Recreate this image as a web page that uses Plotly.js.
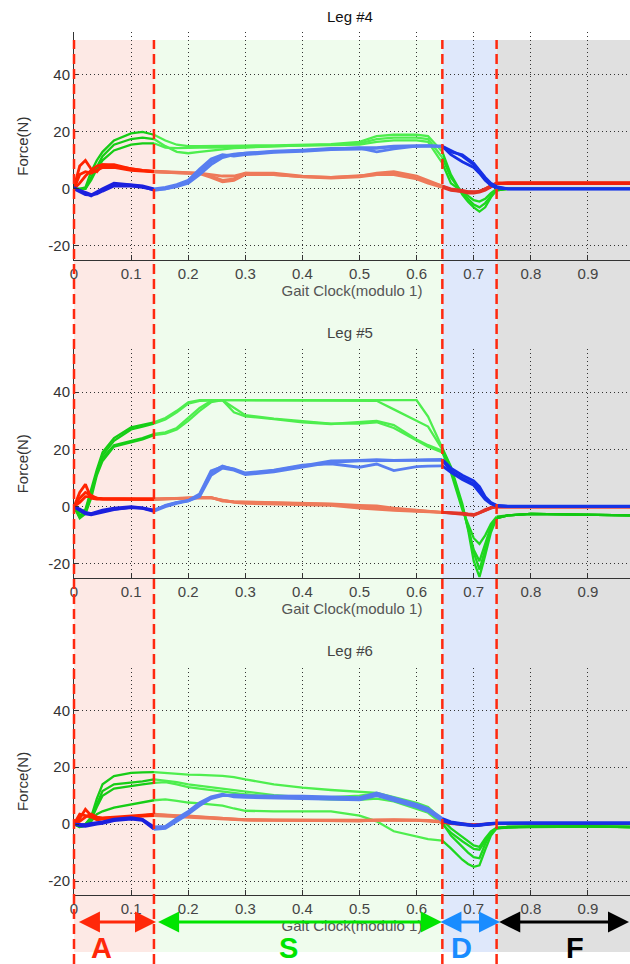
<!DOCTYPE html>
<html><head><meta charset="utf-8">
<script src="https://cdn.plot.ly/plotly-3.0.1.min.js"></script>
<style>html,body{margin:0;padding:0;background:#fff}#chart{width:630px;height:964px}</style>
</head><body><div id="chart"></div>
<script>
// ---------- data ----------
const GAIT_CLOCK = [0, 0.01, 0.02, 0.03, 0.04, 0.05, 0.07, 0.10, 0.12, 0.14,
  0.16, 0.18, 0.20, 0.22, 0.24, 0.26, 0.28, 0.30, 0.35, 0.40,
  0.45, 0.50, 0.53, 0.56, 0.60, 0.62, 0.645, 0.66, 0.68, 0.69,
  0.70, 0.71, 0.72, 0.73, 0.74, 0.76, 0.80, 0.85, 0.90, 0.975];

const LEG_TITLES = ['Leg #4', 'Leg #5', 'Leg #6'];
const PHASE_NAMES = ['A', 'S', 'D', 'F'];
const PHASE_BOUNDS = [0, 0.14, 0.645, 0.74];
const X_TICKS = [0, 0.1, 0.2, 0.3, 0.4, 0.5, 0.6, 0.7, 0.8, 0.9];
const Y_TICKS = [-20, 0, 20, 40];

const leg4Green = [
  [0, 0, 0.5, 6, 10, 13, 17, 19.5, 20, 19,
   17, 15.5, 15, 15, 15, 15, 15, 15.2, 15.3, 15.5,
   15.7, 16.5, 18.5, 19, 19, 18.5, 13, 5, -2, -4.5,
   -6.5, -8, -6.5, -3, -0.5, 0, 0, 0, 0, 0],
  [0, 0, 0, 4, 8, 11.5, 15.5, 17.5, 18, 17.5,
   15, 13, 12.5, 13, 13.5, 14, 14.3, 14.5, 15, 15.3,
   15.5, 16, 17.5, 18, 18, 17.5, 11, 4, -1.5, -3.5,
   -5.5, -6.5, -5, -2.5, -0.5, 0, 0, 0, 0, 0],
  [0, 0, 0, 3, 7, 10, 13.5, 15.5, 16, 16,
   14.5, 14.3, 14.5, 14.5, 14.5, 14.5, 14.6, 14.7, 15, 15.2,
   15.4, 15.5, 16.5, 17, 17, 16.5, 9, 2, -1, -2.5,
   -4, -4.5, -3.5, -1.5, 0, 0, 0, 0, 0, 0]
];
const leg4Red = [
  [0.5, 8, 10, 7, 6, 8.5, 8.5, 7, 6.5, 6.2,
   6, 6, 5.8, 5.5, 4.5, 3, 3.5, 5.5, 5.5, 4.5,
   4, 4.5, 5.5, 6, 4.5, 3, 1, 0, -0.5, -1,
   -1, -1, 0, 1, 2, 2.2, 2.2, 2.2, 2.2, 2.2],
  [0, 2, 4.5, 6.5, 8, 8.5, 8, 7, 6.5, 6,
   5.8, 5.8, 5.5, 5.5, 5, 4.5, 4.5, 5.5, 5, 4.3,
   4, 4.5, 5, 5.5, 4, 2.5, 1, -0.3, -1, -1.5,
   -1.5, -1.2, -0.5, 0.8, 1.8, 2, 2, 2, 2, 2],
  [0, 5, 6, 5.5, 6.5, 7.5, 7.5, 6.5, 6.2, 6,
   5.8, 5.8, 5.6, 5.3, 4, 2.5, 3, 5, 5, 4.2,
   3.8, 4.2, 5, 5, 3.5, 2, 0.5, -0.5, -1, -1.2,
   -1.2, -0.8, 0, 1.2, 2, 1.8, 1.8, 1.8, 1.8, 1.8]
];
const leg4Blue = [
  [0.5, -0.5, -1.5, -2.5, -1.5, -0.5, 1.5, 1.3, 0.8, -0.5,
   0, 1, 2.5, 6, 9.5, 11.5, 12.2, 12.5, 13, 13.5,
   14, 14.5, 14.5, 15, 15.2, 15, 15, 13.5, 11.5, 10,
   8.5, 6, 3.5, 1.5, 0.5, 0, 0, 0, 0, 0],
  [0, -1, -2, -2.2, -1, 0, 2, 1.5, 1, 0,
   0.5, 1.5, 3, 7, 10.5, 12, 11.5, 12, 12.8, 13.2,
   13.8, 14, 14.2, 14.8, 15, 15, 15, 12, 9.5, 8.5,
   7.5, 5.5, 3, 1.2, 0.3, 0, 0, 0, 0, 0],
  [0, -0.5, -1.2, -2, -1.8, -0.8, 1, 1, 0.5, -0.3,
   0, 0.8, 2, 5, 8.5, 11, 12, 12.5, 13.2, 13.6,
   14.2, 14.3, 13, 14, 15, 15.2, 14.8, 13, 12, 10.5,
   9, 6.5, 4, 2, 0.8, 0, 0, 0, 0, 0]
];

const leg5Green = [
  [0, -2, -1, 6, 13, 19, 24, 27.7, 28.5, 29.5,
   31, 33.5, 36.5, 37.2, 37.2, 37.2, 37.2, 37.2, 37.2, 37.2,
   37.2, 37.2, 37.2, 37.2, 37.2, 31.5, 20.5, 14, 1, -8,
   -19, -24.5, -17, -9, -4, -3, -2.5, -2.7, -2.8, -3],
  [0, -3, -1.5, 5, 12, 18, 23, 27, 28, 29,
   30.5, 33, 36, 37, 37.2, 37.2, 37.2, 37.2, 37.2, 37.2,
   37.2, 37.2, 37, 34, 30, 28, 20, 13.5, 0, -7,
   -16, -22, -15, -8, -4, -3, -2.5, -2.6, -2.8, -3],
  [0, -3.5, -2, 4, 12, 17, 21.5, 23, 24, 25.4,
   26, 27.5, 31, 34.5, 37, 37.2, 33, 31.6, 30.6, 29.5,
   28.9, 29.5, 30, 28.5, 23.5, 21.5, 19.5, 13, 0, -8,
   -15, -19, -13, -7, -4, -3, -2.5, -2.6, -2.8, -3],
  [0, -4, -2.5, 3, 11, 16, 21, 22.5, 23.5, 25,
   25.5, 27, 30, 33.5, 36.5, 37.2, 34.5, 32, 30.8, 29.8,
   29, 29, 29.5, 27.5, 23, 21, 19, 12, -1, -6,
   -11, -13, -10, -6, -3.5, -3, -2.5, -2.6, -2.8, -3]
];
const leg5Red = [
  [0, 5, 7.8, 3, 2.7, 2.7, 2.7, 2.6, 2.5, 2.6,
   2.8, 3, 3.2, 3.3, 3.3, 2, 1.8, 1.7, 1.5, 1.2,
   1, 0.5, 0.3, -0.5, -1.2, -1.6, -2, -2.2, -2.5, -2.8,
   -3, -2.2, -1.3, -0.5, 0, 0, 0, 0, 0, 0],
  [0, 1.5, 3.5, 3.5, 3, 2.8, 2.8, 2.8, 2.8, 2.8,
   2.9, 3, 3, 3.1, 3.1, 2.3, 1.5, 1.2, 1, 0.8,
   0.5, -0.5, -1, -1.3, -1.6, -1.8, -2, -2, -2.2, -2.5,
   -2.7, -2, -1, -0.3, 0, 0, 0, 0, 0, 0],
  [0, 3, 5, 4, 3, 2.7, 2.6, 2.5, 2.5, 2.5,
   2.7, 2.9, 3.1, 3.2, 3.2, 2.2, 1.7, 1.5, 1.3, 1,
   0.8, 0, -0.5, -1, -1.4, -1.7, -2, -2.1, -2.4, -2.7,
   -2.9, -2.1, -1.2, -0.4, 0, 0, 0, 0, 0, 0]
];
const leg5Blue = [
  [0, -1, -2.2, -2.6, -2, -1.5, -0.8, -0.3, -0.5, -1.4,
   0.5, 1.5, 2, 4, 12, 14.2, 13, 11.5, 12.6, 14.3,
   16, 16.2, 16.4, 16.2, 16.3, 16.5, 16.5, 13.5, 11, 10,
   9, 7, 3.5, 1.5, 0.5, 0.2, 0.2, 0.2, 0.2, 0.2],
  [0, -1.2, -2.5, -2.8, -2.4, -1.8, -1, -0.2, -0.6, -1.6,
   0, 1.2, 2, 3.5, 11, 13.5, 12.8, 11.2, 12.2, 13.8,
   15.5, 16, 16, 16, 16.2, 16.3, 16.2, 12.5, 10, 9,
   8, 6, 3, 1.2, 0.3, 0.1, 0.1, 0.1, 0.1, 0.1],
  [0, -0.8, -2, -2.4, -1.8, -1.2, -0.5, 0, -0.4, -1.2,
   0.3, 1.4, 2.2, 4.5, 12.5, 14, 13.2, 11.8, 12.8, 14.5,
   15, 13.8, 14.9, 12.6, 14, 14.2, 14.3, 12, 9.5, 8.5,
   7.5, 5, 2.5, 1, 0.3, 0.1, 0.1, 0.1, 0.1, 0.1]
];

const leg6Green = [
  [0, -0.5, 0, 2.5, 9, 14, 16.9, 18, 18.2, 18.3,
   18, 17.6, 17.4, 17.3, 17.2, 17, 16.5, 15.7, 14, 12.8,
   12, 11.5, 11, 9.5, 7.5, 6, 1.5, -1.5, -4.5, -6,
   -7.5, -8, -5, -2.5, -1.3, -1, -0.9, -0.8, -0.8, -1],
  [0, -0.5, 0, 2, 7, 11.6, 14, 14.5, 15, 15.7,
   15.3, 14.8, 14, 13.5, 13, 12.5, 12, 11.6, 10.2, 9.5,
   9.5, 10, 10.8, 9, 6.5, 5, 0.5, -4, -8, -10,
   -11.6, -12, -7, -3, -1.5, -1, -0.9, -0.8, -0.8, -1],
  [0, -1, -0.5, 1.5, 6, 10, 12.5, 13.5, 14, 14.5,
   14.8, 14, 13, 12.5, 12, 11.5, 11, 10.5, 9.5, 9,
   8.7, 8.5, 9, 8, 5.5, 4, 0, -3, -6, -7.5,
   -8.7, -9, -6, -3, -1.3, -1, -0.9, -0.8, -0.8, -1],
  [0, -1, -0.5, 1, 3.5, 4.5, 5.8, 7, 7.8, 8.4,
   8.7, 8.2, 7.6, 7.3, 7, 6.5, 5.5, 4.7, 4.5, 4.5,
   4.5, 3, 1, -2.5, -4.5, -5.3, -5.8, -8.5, -12.5, -14,
   -15, -14.5, -9, -4, -1.5, -1.2, -1, -0.9, -0.9, -1]
];
const leg6Red = [
  [0, 2, 5.2, 3, 2, 2, 2.3, 2.5, 3, 3.3,
   3, 2.9, 2.9, 2.6, 2.4, 2.2, 1.8, 1.5, 1.4, 1.3,
   1.3, 1.2, 1.5, 1.5, 1.4, 1.2, 0.8, 0.3, 0, -0.2,
   -0.3, -0.2, 0, 0.1, 0.2, 0.3, 0.3, 0.3, 0.3, 0.3],
  [0, 3.5, 3, 2.5, 1.5, 1.8, 2, 2.3, 2.8, 3,
   2.8, 2.7, 2.6, 2.4, 2.2, 2, 1.6, 1.4, 1.3, 1.2,
   1.2, 1.2, 1.3, 1.4, 1.3, 1.1, 0.7, 0.2, -0.1, -0.3,
   -0.4, -0.3, 0, 0.1, 0.2, 0.2, 0.2, 0.2, 0.2, 0.2],
  [0, 1, 2.5, 3.5, 2.5, 2.2, 2.5, 2.8, 3.2, 3.5,
   3.2, 3, 2.8, 2.5, 2.3, 2, 1.7, 1.6, 1.5, 1.4,
   1.4, 1.3, 1.4, 1.6, 1.5, 1.3, 0.9, 0.4, 0.1, -0.1,
   -0.2, -0.1, 0.1, 0.2, 0.3, 0.3, 0.3, 0.3, 0.3, 0.3]
];
const leg6Blue = [
  [0, -0.3, -0.5, 0, 0.3, 0.5, 1.5, 2, 1.5, -1.4,
   -1, 1.5, 4.1, 7, 9.3, 10.2, 10, 9.9, 9.6, 9.3,
   9.3, 8.8, 10.5, 8.7, 6.5, 5, 1.5, 0.5, 0, -0.3,
   -0.5, -0.3, 0, 0.2, 0.3, 0.4, 0.4, 0.4, 0.4, 0.4],
  [0, -0.6, -0.8, -0.3, 0, 0.3, 1.2, 1.8, 1.3, -1.8,
   -1.5, 1, 3.5, 6.5, 9, 10, 10.3, 10, 10, 9.8,
   9.6, 9.3, 11, 9.2, 7, 5.5, 2, 0.8, 0.2, -0.2,
   -0.4, -0.2, 0.1, 0.3, 0.4, 0.4, 0.4, 0.4, 0.4, 0.4],
  [0, 0, -0.2, 0.3, 0.6, 0.8, 1.8, 2.3, 1.7, -1,
   -0.8, 2, 4.5, 7.5, 9.6, 10.5, 9.6, 9.4, 9.2, 8.8,
   8.8, 8.5, 10, 8.2, 6, 4.5, 1.2, 0.4, -0.2, -0.5,
   -0.6, -0.4, -0.1, 0.1, 0.3, 0.3, 0.3, 0.3, 0.3, 0.3]
];

// ---------- styling ----------
const XMAX = 0.9736;
const Y_RANGE = [-25, 55];
const FONT = 'Liberation Sans, Arial, Helvetica, sans-serif';
const PHASE_FILL = ['rgb(253,233,229)', 'rgb(239,252,237)', 'rgb(223,232,251)', 'rgb(224,224,224)'];
const PAL_GREEN = ['rgb(22,205,22)', 'rgb(78,238,78)', 'rgb(30,215,30)', 'rgb(18,200,18)'];
const PAL_RED = ['rgb(255,35,0)', 'rgb(238,122,90)', 'rgb(226,52,40)', 'rgb(242,32,10)'];
const PAL_BLUE = ['rgb(28,32,222)', 'rgb(88,126,240)', 'rgb(22,48,230)', 'rgb(22,52,230)'];
const LABEL_COLORS = ['rgb(255,40,10)', 'rgb(0,228,0)', 'rgb(25,140,255)', 'rgb(0,0,0)'];
const LABEL_X = [0.049, 0.375, 0.678, 0.877];
const ARROW_SPANS = [[0.006, 0.1436], [0.1447, 0.644], [0.639, 0.746], [0.742, 0.99]];
const Y_DOMAINS = [[0.7303, 0.9665], [0.4001, 0.6377], [0.0713, 0.3074]];
const TITLE_Y = [0.9834, 0.6556, 0.3247];
const PLOT_W = 556;

const traces = [];
function addSeries(panel, trials, palette, width) {
  const sfx = panel === 0 ? '' : String(panel + 1);
  trials.forEach(ys => {
    for (let p = 0; p < 4; p++) {
      const lo = PHASE_BOUNDS[p];
      const hi = p < 3 ? PHASE_BOUNDS[p + 1] : Infinity;
      const xs = [], yv = [];
      GAIT_CLOCK.forEach((x, i) => {
        if (x >= lo - 1e-9 && x <= hi + 1e-9) { xs.push(x); yv.push(ys[i]); }
      });
      traces.push({
        x: xs, y: yv, xaxis: 'x' + sfx, yaxis: 'y' + sfx,
        type: 'scatter', mode: 'lines',
        line: { color: palette[p], width: width },
        hoverinfo: 'skip', showlegend: false
      });
    }
  });
}
const legs = [
  [leg4Green, leg4Red, leg4Blue],
  [leg5Green, leg5Red, leg5Blue],
  [leg6Green, leg6Red, leg6Blue]
];
legs.forEach((leg, k) => {
  addSeries(k, leg[0], PAL_GREEN, 2.3);
  addSeries(k, leg[1], PAL_RED, 2.8);
  addSeries(k, leg[2], PAL_BLUE, 2.8);
});

const layout = {
  width: 630, height: 964,
  margin: { l: 74, r: 0, t: 0, b: 0 },
  paper_bgcolor: 'white', plot_bgcolor: 'rgba(0,0,0,0)',
  font: { family: FONT, size: 15, color: '#333' },
  showlegend: false,
  shapes: [], annotations: []
};

for (let k = 0; k < 3; k++) {
  const sfx = k === 0 ? '' : String(k + 1);
  layout['xaxis' + sfx] = {
    domain: [0, 1], range: [0, XMAX], anchor: 'y' + sfx,
    tickvals: X_TICKS, ticktext: X_TICKS.map(String),
    showgrid: true, gridcolor: '#333', griddash: '1px,3px', gridwidth: 1,
    zeroline: false, showline: true, linecolor: '#333', linewidth: 1,
    ticks: 'inside', ticklen: 5, tickcolor: '#333',
    tickfont: { family: FONT, size: 15, color: '#444' },
    title: { text: 'Gait Clock(modulo 1)', font: { family: FONT, size: 15, color: '#555' }, standoff: k === 2 ? 0 : 4 },
    fixedrange: true
  };
  layout['yaxis' + sfx] = {
    domain: Y_DOMAINS[k], range: Y_RANGE, anchor: 'x' + sfx,
    tickvals: Y_TICKS, ticktext: Y_TICKS.map(String),
    showgrid: true, gridcolor: '#333', griddash: '1px,3px', gridwidth: 1,
    zeroline: false, showline: true, linecolor: '#333', linewidth: 1,
    ticks: 'inside', ticklen: 5, tickcolor: '#333',
    tickfont: { family: FONT, size: 15, color: '#333' },
    title: { text: 'Force(N)', font: { family: FONT, size: 15, color: '#333' }, standoff: 16 },
    fixedrange: true
  };
  layout.annotations.push({
    xref: 'paper', yref: 'paper', x: 0.4956, y: TITLE_Y[k],
    xanchor: 'center', yanchor: 'middle', showarrow: false,
    text: LEG_TITLES[k], font: { family: FONT, size: 15, color: k === 0 ? '#111' : '#444' }
  });
}

// phase shading (paper coordinates computed from data x)
const toPaper = v => v / XMAX;
const shadeTop = 1 - 40 / 964, shadeBottom = 1 - 952 / 964;
for (let p = 0; p < 4; p++) {
  const x0 = PHASE_BOUNDS[p], x1 = p < 3 ? PHASE_BOUNDS[p + 1] : XMAX;
  layout.shapes.push({
    type: 'rect', xref: 'paper', yref: 'paper', layer: 'below',
    x0: toPaper(x0), x1: toPaper(x1), y0: shadeBottom, y1: shadeTop,
    fillcolor: PHASE_FILL[p], line: { width: 0 }
  });
}
// dashed phase boundaries
PHASE_BOUNDS.forEach(b => {
  layout.shapes.push({
    type: 'line', xref: 'paper', yref: 'paper', layer: 'above',
    x0: toPaper(b), x1: toPaper(b), y0: 0, y1: shadeTop,
    line: { color: 'rgb(255,40,15)', width: 2.5, dash: '10px,5px' }
  });
});
// phase arrows and labels
const arrowY = 1 - 922 / 964;
for (let p = 0; p < 4; p++) {
  const [a, b] = ARROW_SPANS[p];
  layout.annotations.push({
    xref: 'paper', yref: 'paper', x: toPaper(b), y: arrowY,
    ax: -(b - a) * PLOT_W / XMAX, ay: 0, text: '',
    showarrow: true, arrowside: 'end+start',
    arrowhead: 2, startarrowhead: 2, arrowsize: 1.4, startarrowsize: 1.4,
    arrowwidth: 3, arrowcolor: LABEL_COLORS[p], standoff: 0, startstandoff: 0
  });
  layout.annotations.push({
    xref: 'paper', yref: 'paper', x: toPaper(LABEL_X[p]), y: 1 - 948 / 964,
    xanchor: 'center', yanchor: 'middle', showarrow: false,
    text: '<b>' + PHASE_NAMES[p] + '</b>',
    font: { family: FONT, size: 29, color: LABEL_COLORS[p] }
  });
}

Plotly.newPlot('chart', traces, layout, { staticPlot: true, displayModeBar: false });
</script>
</body></html>
